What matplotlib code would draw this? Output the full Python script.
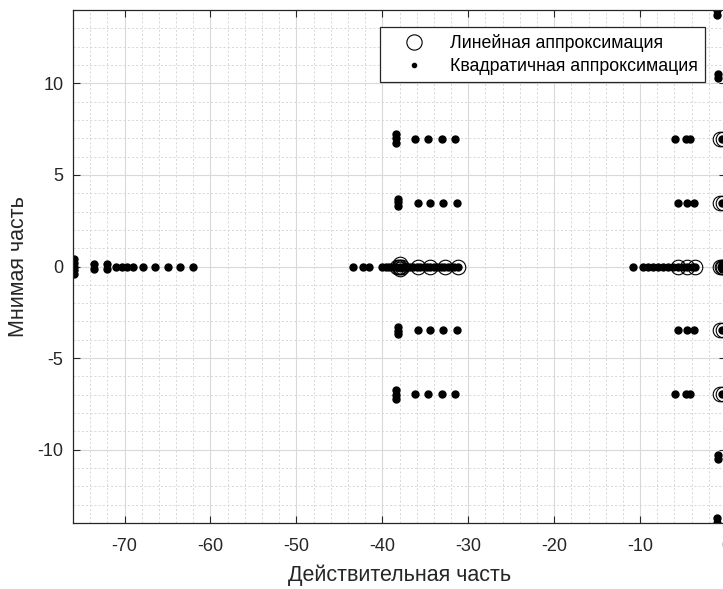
import matplotlib
matplotlib.use("Agg")
import matplotlib.pyplot as plt
from matplotlib.ticker import MultipleLocator

plt.rcParams['font.family'] = ['Liberation Sans', 'DejaVu Sans']
plt.rcParams['axes.unicode_minus'] = False

# linear approximation (circles)
lin_re = [-38.3, -38.1, -37.9, -37.7, -38.0, -38.0, -35.8, -34.4, -32.7, -31.2,
          -5.6, -4.5, -3.6,
          -0.7, -0.5, -0.3, -0.7, -0.4, -0.7, -0.4, -0.7, -0.4, -0.7, -0.4]
lin_im = [0, 0, 0, 0, 0.15, -0.15, 0, 0, 0, 0,
          0, 0, 0,
          0, 0, 0, 3.45, 3.45, -3.45, -3.45, 6.95, 6.95, -6.95, -6.95]

# quadratic approximation (dots)
quad_re = [-75.9, -75.9, -75.9, -75.9, -75.9, -73.5, -73.5, -72.0, -72.0,
           -71.0, -70.3, -69.7, -69.0, -67.9, -66.5, -64.9, -63.5, -62.0,
           -43.4, -42.2, -41.6, -40.0, -39.6, -39.2, -38.8, -38.4, -38.0,
           -37.6, -37.2, -36.8, -36.4, -36.0, -35.6, -35.2, -34.8, -34.4,
           -34.0, -33.6, -33.2, -32.8, -32.4, -32.0, -31.6, -31.2,
           -38.4, -38.4, -38.4, -36.2, -34.7, -33.0, -31.5,
           -38.2, -38.2, -38.2, -35.8, -34.4, -32.9, -31.3,
           -38.2, -38.2, -38.2, -35.8, -34.4, -32.9, -31.3,
           -38.4, -38.4, -38.4, -36.2, -34.7, -33.0, -31.5,
           -10.8, -9.7, -9.1, -8.5, -7.9, -7.3, -6.8, -6.2, -5.6, -5.0,
           -4.5, -4.0, -3.6,
           -0.6, -0.4, -0.5, -0.5,
           -5.9, -4.6, -4.2, -0.5,
           -5.6, -4.5, -3.7, -0.5,
           -5.6, -4.5, -3.7, -0.5,
           -5.9, -4.6, -4.2, -0.5,
           -0.9, -0.9, -1.1, -1.1, -0.9, -0.9, -1.1, -1.1]
quad_im = [-0.4, -0.2, 0, 0.2, 0.4, -0.15, 0.15, -0.15, 0.15,
           0, 0, 0, 0, 0, 0, 0, 0, 0,
           0, 0, 0, 0, 0, 0, 0, 0, 0,
           0, 0, 0, 0, 0, 0, 0, 0, 0,
           0, 0, 0, 0, 0, 0, 0, 0,
           6.75, 7.0, 7.25, 6.95, 6.95, 6.95, 6.95,
           3.3, 3.5, 3.7, 3.45, 3.45, 3.45, 3.45,
           -3.3, -3.5, -3.7, -3.45, -3.45, -3.45, -3.45,
           -6.75, -7.0, -7.25, -6.95, -6.95, -6.95, -6.95,
           0, 0, 0, 0, 0, 0, 0, 0, 0, 0,
           0, 0, 0,
           0, 0, 0.15, -0.15,
           6.95, 6.95, 6.95, 6.95,
           3.45, 3.45, 3.45, 3.45,
           -3.45, -3.45, -3.45, -3.45,
           -6.95, -6.95, -6.95, -6.95,
           10.3, 10.5, 13.7, 14.0, -10.3, -10.5, -13.7, -14.0]

fig = plt.figure(figsize=(7.23, 5.89), dpi=100)
ax = fig.add_axes([73/723, 1 - 523/589, 653/723, 513/589])

ax.plot(lin_re, lin_im, 'o', mfc='none', mec='black', ms=10.5, mew=0.8,
        linestyle='none', label='Линейная аппроксимация')
ax.plot(quad_re, quad_im, 'o', color='black', ms=5,
        linestyle='none', label='Квадратичная аппроксимация')

ax.set_xlim(-76, 0)
ax.set_ylim(-14, 14)
ax.xaxis.set_major_locator(MultipleLocator(10))
ax.xaxis.set_minor_locator(MultipleLocator(2))
ax.yaxis.set_major_locator(MultipleLocator(5))
ax.yaxis.set_minor_locator(MultipleLocator(1))

ax.grid(which='major', color='#d9d9d9', linewidth=0.8)
ax.grid(which='minor', color='#d2d2d2', linewidth=0.6, linestyle=(0, (2.5, 2.5)))
ax.set_axisbelow(True)

ax.tick_params(which='both', direction='in', top=True, right=True,
               labelsize=13, colors='#262626')
ax.tick_params(which='minor', length=0)
ax.tick_params(which='major', length=5)
ax.tick_params(axis='x', pad=11)
ax.tick_params(axis='y', pad=7)
for s in ax.spines.values():
    s.set_color('#262626')
    s.set_linewidth(0.9)

ax.set_xlabel('Действительная часть', fontsize=15.5, color='#262626', labelpad=7)
ax.set_ylabel('Мнимая часть', fontsize=15.5, color='#262626', labelpad=6)

leg = ax.legend(loc='upper right', bbox_to_anchor=(0.968, 0.967),
                borderaxespad=0, fancybox=False, framealpha=1,
                edgecolor='#262626', fontsize=12.8, handlelength=3.0,
                handletextpad=0.55, borderpad=0.4, labelspacing=0.35)
leg.get_frame().set_linewidth(0.9)
leg.legend_handles[1].set_markersize(3)
leg.legend_handles[0].set_markersize(11)

fig.savefig('out.png', dpi=100)
